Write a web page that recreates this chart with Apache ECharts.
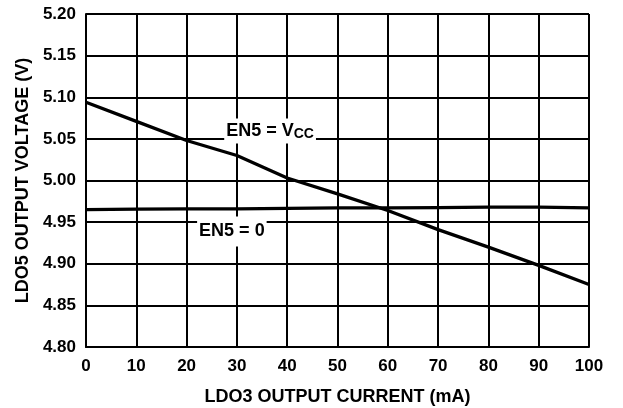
<!DOCTYPE html>
<html>
<head>
<meta charset="utf-8">
<script src="https://cdn.jsdelivr.net/npm/echarts@6/dist/echarts.min.js"></script>
<style>
html,body{margin:0;padding:0;background:#fff;}
#c{width:623px;height:408px;}
</style>
</head>
<body>
<div id="c"></div>
<script>
var current = [0, 10, 20, 30, 40, 50, 60, 70, 80, 90, 100];
var en5Vcc = [5.094, 5.071, 5.048, 5.030, 5.003, 4.984, 4.964, 4.941, 4.920, 4.898, 4.875];
var en5Zero = [4.965, 4.9655, 4.966, 4.966, 4.9665, 4.967, 4.967, 4.9675, 4.968, 4.968, 4.967];
var xTitle = 'LDO3 OUTPUT CURRENT (mA)';
var yTitle = 'LDO5 OUTPUT VOLTAGE (V)';
var labelVcc = {x: 36.6, y: 5.0594};
var labelZero = {x: 29.0, y: 4.9388};

var FONT = '"Liberation Sans", Arial, Helvetica, sans-serif';

function pairs(xs, ys) { return xs.map(function (x, i) { return [x, ys[i]]; }); }

var chart = echarts.init(document.getElementById('c'), null, {renderer: 'canvas'});
chart.setOption({
  animation: false,
  backgroundColor: '#fff',
  grid: {left: 86, right: 34, top: 14, bottom: 61, containLabel: false, outerBoundsMode: 'none'},
  xAxis: {
    type: 'value', min: 0, max: 100, interval: 10,
    name: xTitle, nameLocation: 'middle', nameGap: 41,
    nameTextStyle: {fontFamily: FONT, fontWeight: 'bold', fontSize: 18, color: '#000'},
    axisLine: {show: true, lineStyle: {color: '#000', width: 2}},
    axisTick: {show: false},
    axisLabel: {fontFamily: FONT, fontWeight: 'bold', fontSize: 17, color: '#000', margin: 11},
    splitLine: {show: true, lineStyle: {color: '#000', width: 2}}
  },
  yAxis: {
    type: 'value', min: 4.80, max: 5.20, interval: 0.05,
    name: yTitle, nameLocation: 'middle', nameGap: 53, nameRotate: 90,
    nameTextStyle: {fontFamily: FONT, fontWeight: 'bold', fontSize: 18, color: '#000'},
    axisLine: {show: true, lineStyle: {color: '#000', width: 2}},
    axisTick: {show: false},
    axisLabel: {fontFamily: FONT, fontWeight: 'bold', fontSize: 17, color: '#000', margin: 10,
      formatter: function (v) { return v.toFixed(2); }},
    splitLine: {show: true, lineStyle: {color: '#000', width: 2}}
  },
  series: [
    {
      type: 'line', data: pairs(current, en5Vcc), symbol: 'none', smooth: false,
      lineStyle: {color: '#000', width: 3.3}, z: 3,
      markPoint: {
        symbol: 'rect', symbolSize: 1, itemStyle: {color: 'rgba(0,0,0,0)'},
        data: [{coord: [labelVcc.x, labelVcc.y]}],
        label: {
          show: true, position: 'inside',
          formatter: '{a|EN5 = V}{b|CC}',
          backgroundColor: '#fff', padding: [3, 2, 2, 2],
          rich: {
            a: {fontFamily: FONT, fontWeight: 'bold', fontSize: 18, color: '#000', lineHeight: 20, verticalAlign: 'top'},
            b: {fontFamily: FONT, fontWeight: 'bold', fontSize: 14, color: '#000', lineHeight: 14, verticalAlign: 'bottom', padding: [9, 0, 0, 0]}
          }
        }
      }
    },
    {
      type: 'line', data: pairs(current, en5Zero), symbol: 'none', smooth: false,
      lineStyle: {color: '#000', width: 3.3}, z: 3,
      markPoint: {
        symbol: 'rect', symbolSize: 1, itemStyle: {color: 'rgba(0,0,0,0)'},
        data: [{coord: [labelZero.x, labelZero.y]}],
        label: {
          show: true, position: 'inside',
          formatter: 'EN5 = 0',
          fontFamily: FONT, fontWeight: 'bold', fontSize: 18, color: '#000',
          backgroundColor: '#fff', padding: [6, 2, 6, 2]
        }
      }
    }
  ]
});
</script>
</body>
</html>
